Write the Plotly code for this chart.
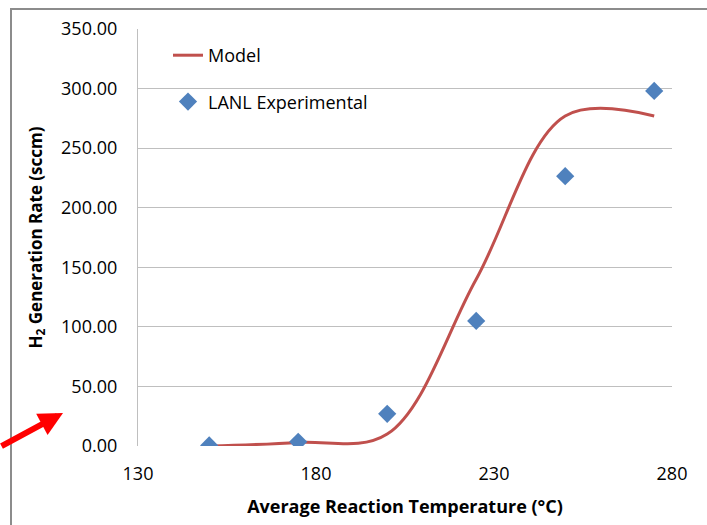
import plotly.graph_objects as go

# Data
model_x = [150, 175, 200, 225, 250, 275]
model_y = [0.0, 3.0, 10.0, 140.0, 277.0, 277.0]
exp_x = [150, 175, 200, 225, 250, 275]
exp_y = [0.5, 3.5, 27.0, 105.0, 226.5, 298.0]
x_ticks = [130, 180, 230, 280]
y_ticks = [0, 50, 100, 150, 200, 250, 300, 350]

FONT = "Open Sans"

fig = go.Figure()
fig.add_trace(go.Scatter(
    x=model_x, y=model_y, mode="lines", name="Model",
    line=dict(color="#C0504D", width=3, shape="spline", smoothing=1.0),
    legendgroup="a",
))
fig.add_trace(go.Scatter(
    x=exp_x, y=exp_y, mode="markers", name="LANL Experimental",
    marker=dict(symbol="diamond", color="#4F81BD", size=14),
    legendgroup="b",
))

W, H = 707, 525
ml, mr, mt, mb = 138, 35, 29, 79
pw, ph = W - ml - mr, H - mt - mb

fig.update_layout(
    width=W, height=H,
    margin=dict(l=ml, r=mr, t=mt, b=mb),
    paper_bgcolor="white", plot_bgcolor="white",
    font=dict(family=FONT, size=18, color="#000000"),
    showlegend=True,
    legend=dict(x=(168 - ml) / pw, y=(H - mb - 37) / ph, xanchor="left", yanchor="top",
                bgcolor="rgba(0,0,0,0)", font=dict(size=18), tracegroupgap=20,
                traceorder="grouped"),
    xaxis=dict(range=[130, 280], tickvals=x_ticks, ticktext=[str(v) for v in x_ticks],
               showgrid=False, zeroline=False, showline=False, ticks="",
               ticklabelstandoff=15,
               title=dict(text="<b>Average Reaction Temperature (°C)</b>", font=dict(size=18), standoff=16)),
    yaxis=dict(range=[0, 350], tickvals=y_ticks, ticktext=[f"{v:.2f}" for v in y_ticks],
               showgrid=True, gridcolor="#BFBFBF", gridwidth=1.3, zeroline=False,
               showline=True, linecolor="#BFBFBF", linewidth=1.3, ticks="",
               ticklabelstandoff=16,
               title=dict(text="<b>H<sub>2</sub> Generation Rate (sccm)</b>", font=dict(size=17), standoff=14)),
)

# outer chart frame
fig.add_shape(type="rect", xref="paper", yref="paper",
              x0=(11 - ml) / pw, x1=1.2, y0=-0.5, y1=(H - mb - 9) / ph,
              line=dict(color="#8C8C8C", width=2), fillcolor="rgba(0,0,0,0)", layer="below")

# red arrow
fig.add_annotation(x=(63 - ml) / pw, y=(H - mb - 413) / ph, xref="paper", yref="paper",
                   ax=-85, ay=34, showarrow=True, arrowhead=2, arrowsize=0.8,
                   arrowwidth=6, arrowcolor="#FF0000", text="")

fig.write_html("out.html")
